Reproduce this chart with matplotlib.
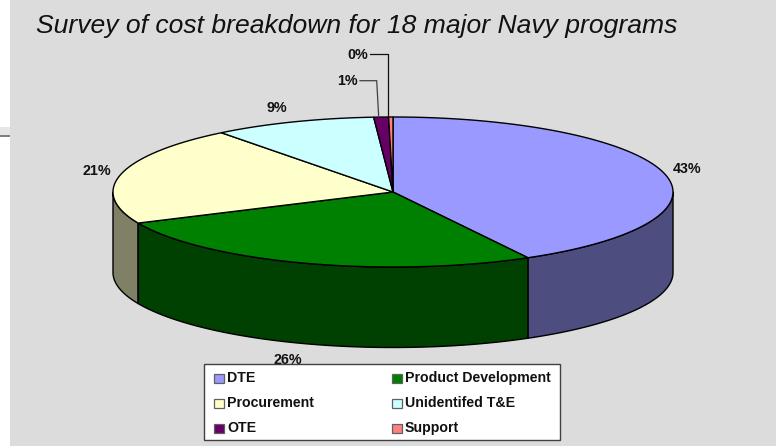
import numpy as np
import matplotlib
matplotlib.use('Agg')
from matplotlib import pyplot as plt
from matplotlib.patches import Polygon, Rectangle

plt.rcParams['font.family'] = ['Liberation Sans', 'DejaVu Sans']

title = 'Survey of cost breakdown for 18 major Navy programs'
categories = ['DTE', 'Product Development', 'Procurement', 'Unidentifed T&E', 'OTE', 'Support']
values = [42.0, 26.2, 21.3, 9.4, 0.85, 0.25]
pct_labels = ['43%', '26%', '21%', '9%', '1%', '0%']
top_colors = ['#9999ff', '#008000', '#ffffcc', '#ccffff', '#660066', '#ff8080']
side_colors = ['#4d4d80', '#004000', '#808066', '#668080', '#330033', '#804040']

cx, cy, rx, ry, depth = 393, 192, 280, 75, 80.5


def rim(a, b):
    t = np.radians(np.linspace(a, b, max(int(abs(b - a) * 2), 2)))
    return np.column_stack([cx + rx * np.sin(t), cy - ry * np.cos(t)])


fig = plt.figure(figsize=(7.76, 4.46), dpi=100)
ax = fig.add_axes([0, 0, 1, 1])
ax.set_xlim(0, 776)
ax.set_ylim(446, 0)
ax.axis('off')

ax.add_patch(Rectangle((0, 127), 10, 8, fc='#e6e6e6', ec='none'))
ax.add_patch(Rectangle((0, 135), 10, 2, fc='#808080', ec='none'))
ax.add_patch(Rectangle((10, 0), 766, 446, fc='#dcdcdc', ec='none'))

edges = np.cumsum([0] + values) * 3.6

# side walls, only the front half of the rim shows
for i in [4, 5, 3, 2, 0, 1]:
    a, b = max(edges[i], 90), min(edges[i + 1], 270)
    if a >= b:
        continue
    pts = rim(a, b)
    wall = np.vstack([pts, (pts + [0, depth])[::-1]])
    ax.add_patch(Polygon(wall, closed=True, fc=side_colors[i], ec='black', lw=1, joinstyle='round'))

# top face
for i in range(len(values)):
    pts = rim(edges[i], edges[i + 1])
    ax.add_patch(Polygon(np.vstack([[cx, cy], pts]), closed=True, fc=top_colors[i], ec='black', lw=1))

ax.text(36, 33, title, fontsize=19.05, style='italic', color='#111111', va='baseline')

label_pos = [(687, 169), (288, 360), (97, 171), (277, 108), (347, 81), (358, 55)]
for s, (x, y) in zip(pct_labels, label_pos):
    ax.text(x, y, s, fontsize=10.3, fontweight='bold', ha='center', va='center', color='#111111')

# leader lines for the two thin slices
ax.plot([360, 376.7, 378.7], [80.7, 80.7, 117], color='#404040', lw=0.9)
ax.plot([370, 387.7, 387.7], [54.3, 54.3, 117], color='#111111', lw=0.9)

# legend box
ax.add_patch(Rectangle((204, 364), 356, 76, fc='white', ec='#404040', lw=1, zorder=3))
leg_x = [214, 392]
leg_y = [378, 403, 428]
for i, name in enumerate(categories):
    x = leg_x[i % 2]
    y = leg_y[i // 2]
    ax.add_patch(Rectangle((x, y - 4.5), 9.5, 9.5, fc=top_colors[i], ec='#606060', lw=0.9, zorder=4))
    ax.text(x + 13, y, name, fontsize=10.2, fontweight='bold', va='center', color='#111111', zorder=4)

fig.savefig('out.png', dpi=100)
